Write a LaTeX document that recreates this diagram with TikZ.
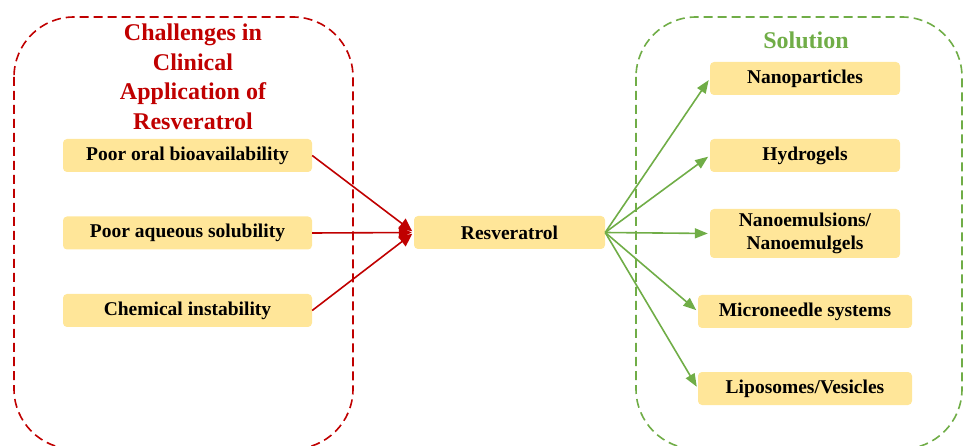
\documentclass[tikz,border=0pt]{standalone}
\usepackage{fontspec}
\setmainfont{Liberation Serif}
\usepackage{xcolor}
\usetikzlibrary{arrows.meta,positioning}

\definecolor{boxfill}{HTML}{FFE699}
\definecolor{chalred}{HTML}{C00000}
\definecolor{solgreen}{HTML}{70AD47}

\begin{document}
\begin{tikzpicture}[x=1pt, y=-1pt,
  item/.style={fill=boxfill, rounded corners=4pt, minimum width=249pt, minimum height=33pt, inner sep=1pt, font=\fontsize{19.5}{23}\selectfont\bfseries, align=center},
  group/.style={dashed, dash pattern=on 9pt off 5pt, line width=1.6pt, rounded corners=60pt},
  heading/.style={font=\fontsize{24}{29.5}\selectfont\bfseries, align=center},
  redarrow/.style={-{Triangle[length=13pt,width=12pt]}, chalred, line width=1.6pt, shorten >=2pt},
  greenarrow/.style={-{Triangle[length=13pt,width=10pt]}, solgreen, line width=1.6pt, shorten >=2pt}
]
\useasboundingbox (0,0) rectangle (964,446);

% dashed groups
\draw[group, chalred] (14,17) rectangle (353,449);
\draw[group, solgreen] (636,17) rectangle (962,449);

\node[heading, text=chalred] (chaltitle) at (193,77) {Challenges in\\Clinical\\Application of\\Resveratrol};
\node[heading, text=solgreen] (soltitle) at (806,40) {Solution};

% challenges
\node[item] (chal1) at (187.5,155.5) {Poor oral bioavailability};
\node[item] (chal2) at (187.5,233) {Poor aqueous solubility};
\node[item] (chal3) at (187.5,310.5) {Chemical instability};

% centre
\node[item, minimum width=191pt] (res) at (509.5,232.5) {Resveratrol};

% solutions
\node[item, minimum width=190pt] (sol1) at (805,78.5) {Nanoparticles};
\node[item, minimum width=190pt] (sol2) at (805,155.5) {Hydrogels};
\node[item, minimum width=190pt, minimum height=49pt] (sol3) at (805,233.5) {Nanoemulsions/\\Nanoemulgels};
\node[item, minimum width=214pt] (sol4) at (805,311.5) {Microneedle systems};
\node[item, minimum width=214pt] (sol5) at (805,388.5) {Liposomes/Vesicles};

\draw[redarrow] (chal1.east) -- (res.west);
\draw[redarrow] (chal2.east) -- (res.west);
\draw[redarrow] (chal3.east) -- (res.west);

\foreach \s in {sol1,sol2,sol3,sol4,sol5}
  \draw[greenarrow] (res.east) -- (\s.west);
\end{tikzpicture}
\end{document}
